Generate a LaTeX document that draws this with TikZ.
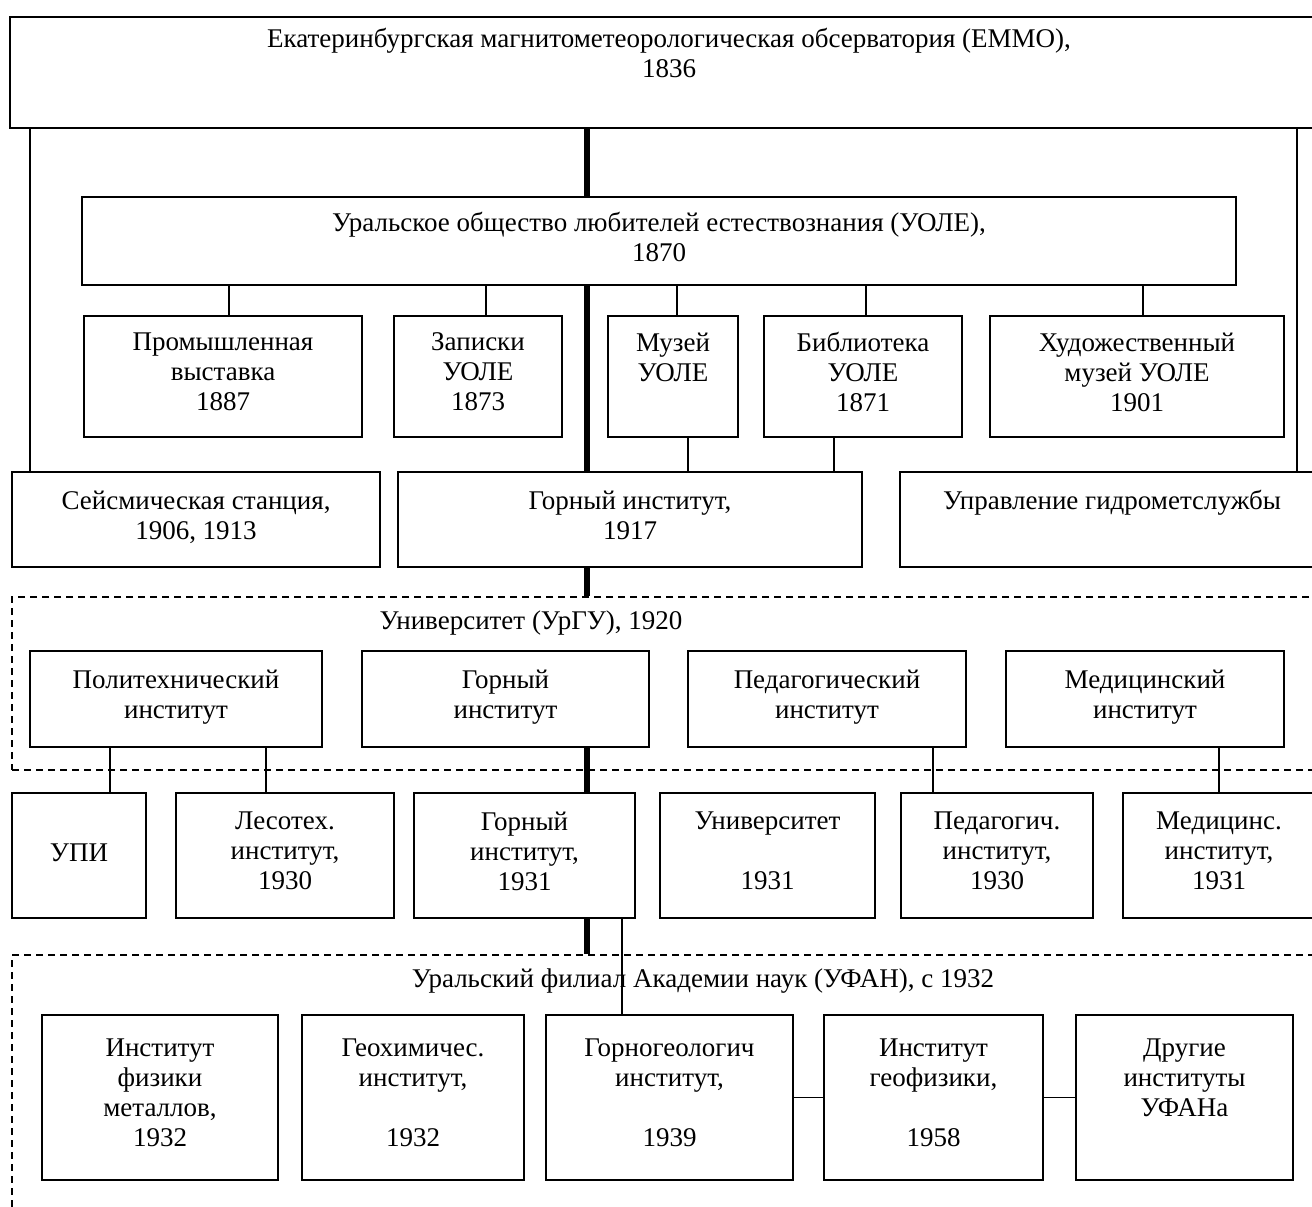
\documentclass[tikz,border=0pt]{standalone}
\usepackage{fontspec}
\setmainfont{Liberation Serif}
\usetikzlibrary{positioning}
\tikzset{box/.style={draw,line width=1.6pt,align=center,inner sep=0pt,font=\fontsize{27}{30}\selectfont,execute at begin node=\strut,execute at end node=\strut},grp/.style={draw,dash pattern=on 7pt off 5pt,line width=1.4pt,inner sep=0pt},link/.style={line width=1.6pt},trunk/.style={line width=6pt}}
\begin{document}
\begin{tikzpicture}[x=1pt,y=-1pt,grouptitle/.style={font=\fontsize{27}{30}\selectfont,inner sep=0pt}]
\clip (0,0) rectangle (1312,1207);
\node[box,minimum width=1318,minimum height=111] (emmo) at (669,72.5) {Екатеринбургская магнитометеорологическая обсерватория (ЕММО),\\1836\\\strut};
\node[box,minimum width=1154,minimum height=88] (uole) at (659,241) {Уральское общество любителей естествознания (УОЛЕ),\\1870};
\foreach \x/\w/\id/\txt in {223/278/prom/{Промышленная\\выставка\\1887},478/168/zap/{Записки\\УОЛЕ\\1873},673/130/muz/{Музей\\УОЛЕ\\\strut},863/198/bib/{Библиотека\\УОЛЕ\\1871},1137/294/hud/{Художественный\\музей УОЛЕ\\1901}}{\node[box,minimum width=\w,minimum height=121] (\id) at (\x,376.5) {\txt};}
\foreach \x/\w/\id/\txt in {196/368/seism/{Сейсмическая станция,\\1906, 1913},630/464/gi17/{Горный институт,\\1917},1112/424/upr/{Управление гидрометслужбы\\\strut}}{\node[box,minimum width=\w,minimum height=95] (\id) at (\x,519.5) {\txt};}
% УрГУ
\node[grp,minimum width=1318,minimum height=173] (urgu) at (671,683.5) {};
\node[grouptitle] (urgut) at (531,623) {Университет (УрГУ), 1920};
\foreach \x/\w/\id/\txt in {176/292/poly/{Политехнический\\институт},505.5/287/gorn/{Горный\\институт},827/278/ped/{Педагогический\\институт},1145/278/med/{Медицинский\\институт}}{\node[box,minimum width=\w,minimum height=96] (\id) at (\x,699) {\txt};}
\foreach \x/\w/\id/\txt in {79/134/upi/{УПИ},285/218/les/{Лесотех.\\институт,\\1930},524.5/221/gi31/{Горный\\институт,\\1931},767.5/215/univ/{Университет\\\strut\\1931},997/192/pedg/{Педагогич.\\институт,\\1930},1219/192/medc/{Медицинс.\\институт,\\1931}}{\node[box,minimum width=\w,minimum height=125] (\id) at (\x,855.5) {\txt};}
% УФАН
\node[grp,minimum width=1318,minimum height=275] (ufan) at (671,1092.5) {};
\node[grouptitle] (ufant) at (703,981) {Уральский филиал Академии наук (УФАН), с 1932};
\foreach \x/\w/\id/\txt in {160/236/ifm/{Институт\\физики\\металлов,\\1932},413/222/geoh/{Геохимичес.\\институт,\\\strut\\1932},669.5/247/ggeo/{Горногеологич\\институт,\\\strut\\1939},933.5/219/igf/{Институт\\геофизики,\\\strut\\1958},1184.5/217/dr/{Другие\\институты\\УФАНа\\\strut}}{\node[box,minimum width=\w,minimum height=165] (\id) at (\x,1097.5) {\txt};}
% connectors
\coordinate (lx) at (30,0);
\coordinate (rx) at (1297,0);
\coordinate (ax) at (587,0);
\draw[link] (emmo.south -| lx) -- (seism.north -| lx);
\draw[link] (emmo.south -| rx) -- (upr.north -| rx);
\draw[trunk] (emmo.south -| ax) -- (uole.north -| ax);
\draw[trunk] (uole.south -| ax) -- (gi17.north -| ax);
\draw[trunk] (gi17.south -| ax) -- (urgu.north -| ax);
\draw[trunk] (gorn.south -| ax) -- (gi31.north -| ax);
\draw[trunk] (gi31.south -| ax) -- (ufan.north -| ax);
\foreach \id/\dx in {prom/6,zap/8,muz/4,bib/3,hud/6}{\draw[link] ([xshift=\dx]\id.north) -- ([xshift=\dx]\id.north |- uole.south);}
\draw[link] ([xshift=15]muz.south) -- ([xshift=15]muz.south |- gi17.north);
\draw[link] ([xshift=-29]bib.south) -- ([xshift=-29]bib.south |- gi17.north);
\draw[link] ([xshift=31]upi.north) -- ([xshift=31]upi.north |- poly.south);
\draw[link] ([xshift=-19]les.north) -- ([xshift=-19]les.north |- poly.south);
\draw[link] ([xshift=106]ped.south) -- ([xshift=106]ped.south |- pedg.north);
\draw[link] (medc.north) -- (medc.north |- med.south);
\draw[link] ([xshift=-47.5]ggeo.north) -- ([xshift=-47.5]ggeo.north |- gi31.south);
\draw[link] (ggeo.east) -- (igf.west);
\draw[link] (igf.east) -- (dr.west);
\end{tikzpicture}
\end{document}
